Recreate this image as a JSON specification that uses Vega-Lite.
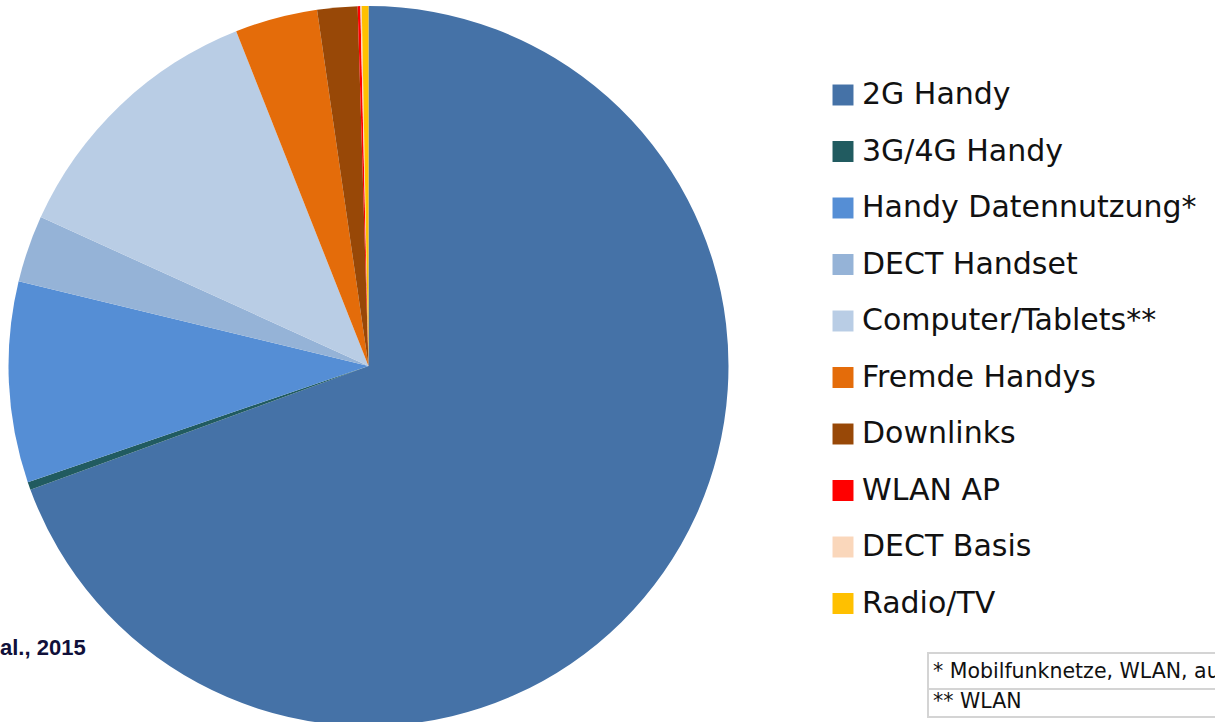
{
  "$schema": "https://vega.github.io/schema/vega-lite/v6.json",
  "width": 737,
  "height": 732,
  "autosize": "none",
  "padding": {"left": 0, "top": 0, "right": 478, "bottom": 0},
  "background": "white",
  "config": {"view": {"stroke": null}},
  "layer": [
    {
      "data": {"values": [
        {"idx": 1, "source": "2G Handy", "share": 69.3},
        {"idx": 2, "source": "3G/4G Handy", "share": 0.35},
        {"idx": 3, "source": "Handy Datennutzung*", "share": 9.0},
        {"idx": 4, "source": "DECT Handset", "share": 3.0},
        {"idx": 5, "source": "Computer/Tablets**", "share": 12.2},
        {"idx": 6, "source": "Fremde Handys", "share": 3.7},
        {"idx": 7, "source": "Downlinks", "share": 1.8},
        {"idx": 8, "source": "WLAN AP", "share": 0.12},
        {"idx": 9, "source": "DECT Basis", "share": 0.06},
        {"idx": 10, "source": "Radio/TV", "share": 0.3}
      ]},
      "mark": {"type": "arc", "outerRadius": 360},
      "encoding": {
        "theta": {"field": "share", "type": "quantitative", "stack": true},
        "order": {"field": "idx", "type": "quantitative"},
        "color": {
          "field": "source",
          "type": "nominal",
          "sort": null,
          "scale": {
            "domain": ["2G Handy", "3G/4G Handy", "Handy Datennutzung*", "DECT Handset", "Computer/Tablets**", "Fremde Handys", "Downlinks", "WLAN AP", "DECT Basis", "Radio/TV"],
            "range": ["#4572A7", "#215B60", "#558ED5", "#95B3D7", "#B9CDE5", "#E46C0A", "#984807", "#FF0000", "#FAD7BB", "#FFC000"]
          },
          "legend": {
            "orient": "none",
            "legendX": 828,
            "legendY": 80,
            "title": null,
            "symbolType": "square",
            "symbolSize": 440,
            "symbolStrokeWidth": 0,
            "labelFont": "DejaVu Sans",
            "labelFontSize": 30,
            "labelColor": "#111111",
            "labelOffset": 4,
            "rowPadding": 26.5,
            "labelLimit": 600
          }
        }
      }
    },
    {
      "data": {"values": [{"t": "al., 2015"}]},
      "mark": {"type": "text", "font": "Liberation Sans", "fontWeight": "bold", "fontSize": 22, "color": "#10103A", "align": "left", "baseline": "alphabetic"},
      "encoding": {"text": {"field": "t"}, "x": {"value": 0}, "y": {"value": 655}}
    },
    {
      "data": {"values": [{"row": 1}]},
      "mark": {"type": "rect", "fill": "white", "stroke": "#D4D4D4", "strokeWidth": 2},
      "encoding": {"x": {"value": 928}, "x2": {"value": 1230}, "y": {"value": 653}, "y2": {"value": 689}}
    },
    {
      "data": {"values": [{"row": 2}]},
      "mark": {"type": "rect", "fill": "white", "stroke": "#D4D4D4", "strokeWidth": 2},
      "encoding": {"x": {"value": 928}, "x2": {"value": 1230}, "y": {"value": 689}, "y2": {"value": 717}}
    },
    {
      "data": {"values": [{"t": "* Mobilfunknetze, WLAN, au"}]},
      "mark": {"type": "text", "font": "DejaVu Sans", "fontSize": 20.5, "color": "#111111", "align": "left", "baseline": "alphabetic"},
      "encoding": {"text": {"field": "t"}, "x": {"value": 933}, "y": {"value": 678}}
    },
    {
      "data": {"values": [{"t": "** WLAN"}]},
      "mark": {"type": "text", "font": "DejaVu Sans", "fontSize": 20.5, "color": "#111111", "align": "left", "baseline": "alphabetic"},
      "encoding": {"text": {"field": "t"}, "x": {"value": 933}, "y": {"value": 708}}
    }
  ]
}
